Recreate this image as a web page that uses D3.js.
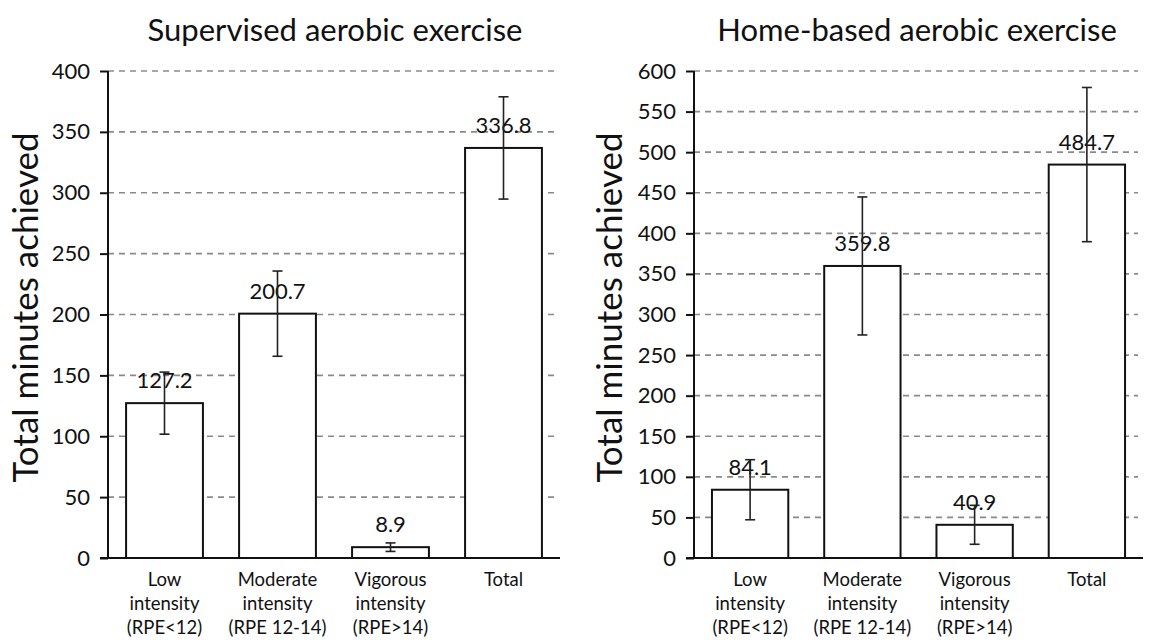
<!DOCTYPE html>
<html><head><meta charset="utf-8">
<script src="https://cdn.jsdelivr.net/npm/d3@7"></script>
<style>body{margin:0;background:#fff}svg{display:block}text{font-family:Lato,"Open Sans",sans-serif;fill:#111}</style>
</head><body><svg id="c" width="1152" height="640"></svg>
<script>
const categories = [["Low","intensity","(RPE<12)"],["Moderate","intensity","(RPE 12-14)"],["Vigorous","intensity","(RPE>14)"],["Total"]];
const supervisedValues = [127.2, 200.7, 8.9, 336.8];
const supervisedErrors = [25.5, 35, 3.5, 42];
const homeValues = [84.1, 359.8, 40.9, 484.7];
const homeErrors = [37, 85, 24, 95];
const supervisedTicks = [0,50,100,150,200,250,300,350,400];
const homeTicks = [0,50,100,150,200,250,300,350,400,450,500,550,600];

const svg = d3.select("#c");
function panel(o){
  const g = svg.append("g");
  const x = d3.scaleBand().domain(d3.range(categories.length)).range([o.x0,o.x1]).paddingInner(0.32).paddingOuter(0.16);
  const y = d3.scaleLinear().domain([0,o.max]).range([o.y0,o.yt]);
  g.selectAll(".grid").data(o.ticks.filter(t=>t>0)).join("line")
    .attr("x1",o.x0).attr("x2",o.x1-5).attr("y1",d=>y(d)).attr("y2",d=>y(d))
    .attr("stroke","#8a8a8a").attr("stroke-width",1.6).attr("stroke-dasharray","6,5");
  const ya = d3.axisLeft(y).tickValues(o.ticks).tickSize(8).tickPadding(10);
  const ag = g.append("g").attr("transform",`translate(${o.x0},0)`).call(ya);
  ag.select(".domain").attr("stroke","#111").attr("stroke-width",2).attr("d",`M0,${o.y0}V${o.yt}`);
  ag.selectAll(".tick line").attr("stroke","#111").attr("stroke-width",2);
  ag.selectAll(".tick text").attr("font-size",22).attr("font-family","Lato").attr("fill","#111");
  g.selectAll(".bar").data(o.values).join("rect")
    .attr("x",(d,i)=>x(i)).attr("width",x.bandwidth())
    .attr("y",d=>y(d)).attr("height",d=>o.y0-y(d))
    .attr("fill","#fff").attr("stroke","#111").attr("stroke-width",2);
  g.append("line").attr("x1",o.x0-8).attr("x2",o.x1).attr("y1",o.y0).attr("y2",o.y0).attr("stroke","#111").attr("stroke-width",2);
  g.selectAll(".vl").data(o.values).join("text")
    .attr("x",(d,i)=>x(i)+x.bandwidth()/2).attr("y",d=>y(d)-15)
    .attr("text-anchor","middle").attr("font-size",22).text(d=>d.toFixed(1));
  o.values.forEach((v,i)=>{
    const cx = x(i)+x.bandwidth()/2, e=o.errors[i];
    const eg = g.append("g").attr("stroke","#222").attr("stroke-width",1.6);
    eg.append("line").attr("x1",cx).attr("x2",cx).attr("y1",y(v+e)).attr("y2",y(v-e));
    eg.append("line").attr("x1",cx-5).attr("x2",cx+5).attr("y1",y(v+e)).attr("y2",y(v+e));
    eg.append("line").attr("x1",cx-5).attr("x2",cx+5).attr("y1",y(v-e)).attr("y2",y(v-e));
  });
  categories.forEach((lines,i)=>{
    const t = g.append("text").attr("text-anchor","middle").attr("font-size",18.5);
    lines.forEach((l,j)=>t.append("tspan").attr("x",x(i)+x.bandwidth()/2).attr("y",o.y0+28+j*24).text(l));
  });
  g.append("text").attr("transform",`translate(${o.labX},${(o.y0+o.yt)/2-7}) rotate(-90)`)
    .attr("text-anchor","middle").attr("font-size",35).text("Total minutes achieved");
  g.append("text").attr("x",o.titleX).attr("y",41).attr("text-anchor","middle").attr("font-size",31).text(o.title);
}
panel({x0:108,x1:560,y0:558,yt:71,max:400,ticks:supervisedTicks,values:supervisedValues,errors:supervisedErrors,labX:38,title:"Supervised aerobic exercise",titleX:335});
panel({x0:694,x1:1143,y0:558,yt:71,max:600,ticks:homeTicks,values:homeValues,errors:homeErrors,labX:622,title:"Home-based aerobic exercise",titleX:917});
</script></body></html>
